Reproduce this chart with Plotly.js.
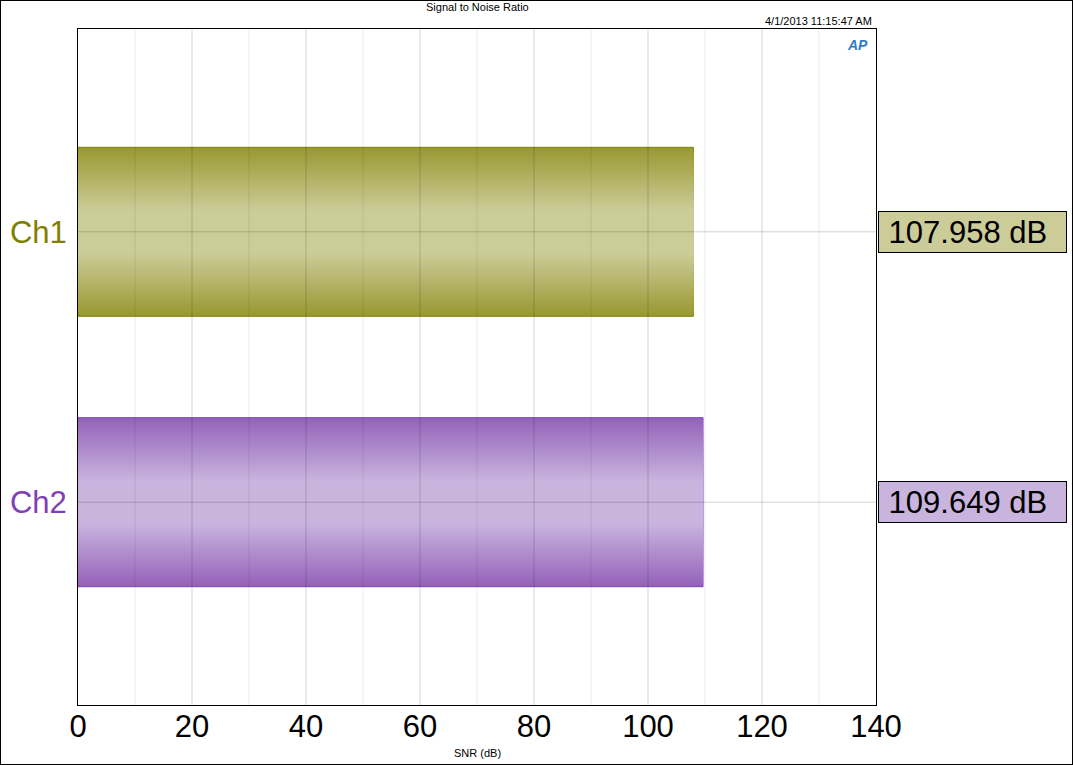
<!DOCTYPE html>
<html>
<head>
<meta charset="utf-8">
<script src="https://cdn.plot.ly/plotly-3.0.1.min.js"></script>
<style>
  html, body { margin: 0; padding: 0; background: #fff; }
  #chart { width: 1071px; height: 763px; border: 1px solid #000; }
</style>
</head>
<body>
<div id="chart"></div>
<script>
// ---- data ----
const channels = ['Ch1', 'Ch2'];
const snrValues = [107.958, 109.649];
const xTickValues = [0, 20, 40, 60, 80, 100, 120, 140];
const xMinorValues = [10, 30, 50, 70, 90, 110, 130];
const chartTitle = 'Signal to Noise Ratio';
const timestamp = '4/1/2013 11:15:47 AM';
const xAxisTitle = 'SNR (dB)';

// ---- styles ----
const darkColors = ['#999933', '#9563ba'];
const lightColors = ['#cccc99', '#c9b4de'];
const lineColors = ['#808000', '#7b3fbb'];
const labelColors = ['#808000', '#7f3fb5'];

function hexToRgb(h) {
  return [parseInt(h.slice(1,3),16), parseInt(h.slice(3,5),16), parseInt(h.slice(5,7),16)];
}
function mix(a, b, t) {
  const A = hexToRgb(a), B = hexToRgb(b);
  return 'rgb(' + A.map((v,i) => Math.round(v + (B[i]-v)*t)).join(',') + ')';
}

const barWidth = 0.625;
const N = 32;
const traces = [];
for (let k = 0; k < N; k++) {
  const t = k / (N - 1);
  const w = barWidth * (1 - 0.74 * t);
  traces.push({
    type: 'bar',
    orientation: 'h',
    y: channels,
    x: snrValues,
    width: channels.map(() => w),
    marker: {
      color: channels.map((c, i) => mix(darkColors[i], lightColors[i], t)),
      line: k === 0 ? { color: lineColors, width: 1 } : { width: 0 }
    },
    hoverinfo: 'skip',
    showlegend: false
  });
}

// grid lines drawn above bars (semi-transparent)
const shapes = [];
xTickValues.slice(1, -1).forEach(v => shapes.push({
  type: 'line', xref: 'x', yref: 'paper', x0: v, x1: v, y0: 0, y1: 1,
  line: { color: 'rgba(0,0,0,0.17)', width: 1 }, layer: 'above'
}));
xMinorValues.forEach(v => shapes.push({
  type: 'line', xref: 'x', yref: 'paper', x0: v, x1: v, y0: 0, y1: 1,
  line: { color: 'rgba(0,0,0,0.08)', width: 1 }, layer: 'above'
}));
channels.forEach(c => shapes.push({
  type: 'line', xref: 'paper', yref: 'y', x0: 0, x1: 1, y0: c, y1: c,
  line: { color: 'rgba(0,0,0,0.18)', width: 1 }, layer: 'above'
}));

const annotations = [];
channels.forEach((c, i) => annotations.push({
  xref: 'paper', yref: 'y', x: 1.0025, y: c, xanchor: 'left', yanchor: 'middle',
  text: '&nbsp;' + snrValues[i].toFixed(3) + ' dB', showarrow: false,
  font: { family: 'Liberation Sans, Arial, sans-serif', size: 31, color: '#000' },
  bgcolor: lightColors[i], bordercolor: '#000', borderwidth: 1,
  width: 185, height: 38, align: 'left', borderpad: 1
}));
annotations.push({
  xref: 'paper', yref: 'paper', x: 0.5, y: 1, yshift: 22, xanchor: 'center', yanchor: 'middle',
  text: chartTitle, showarrow: false,
  font: { family: 'Liberation Sans, Arial, sans-serif', size: 11, color: '#000' }
});
annotations.push({
  xref: 'paper', yref: 'paper', x: 0.9975, y: 1, yshift: 8, xanchor: 'right', yanchor: 'middle',
  text: timestamp, showarrow: false,
  font: { family: 'Liberation Sans, Arial, sans-serif', size: 11, color: '#000' }
});
annotations.push({
  xref: 'paper', yref: 'paper', x: 0.977, y: 1, yshift: -16, xanchor: 'center', yanchor: 'middle',
  text: '<b><i>AP</i></b>', showarrow: false,
  font: { family: 'Liberation Sans, Arial, sans-serif', size: 14, color: '#2f7cc6' }
});
annotations.push({
  xref: 'paper', yref: 'paper', x: 0.5, y: 0, yshift: -48, xanchor: 'center', yanchor: 'middle',
  text: xAxisTitle, showarrow: false,
  font: { family: 'Liberation Sans, Arial, sans-serif', size: 11, color: '#000' }
});

const layout = {
  width: 1071, height: 763,
  margin: { l: 77, r: 196, t: 28, b: 59, pad: 0 },
  paper_bgcolor: '#fff', plot_bgcolor: '#fff',
  barmode: 'overlay',
  xaxis: {
    range: [0, 140], tickvals: xTickValues, ticktext: xTickValues.map(String),
    showgrid: false, zeroline: false,
    showline: true, linecolor: '#000', linewidth: 1, mirror: true,
    ticks: '', ticklabelstandoff: -6,
    tickfont: { family: 'Liberation Sans, Arial, sans-serif', size: 31, color: '#000' },
    fixedrange: true
  },
  yaxis: {
    type: 'category', range: [1.75, -0.75],
    tickvals: channels,
    ticktext: channels.map((c, i) => '<span style="color:' + labelColors[i] + '">' + c + '</span>'),
    showgrid: false, zeroline: false,
    showline: true, linecolor: '#000', linewidth: 1, mirror: true,
    ticks: '', ticklabelstandoff: 4,
    tickfont: { family: 'Liberation Sans, Arial, sans-serif', size: 31 },
    fixedrange: true
  },
  shapes: shapes,
  annotations: annotations,
  showlegend: false
};

Plotly.newPlot('chart', traces, layout, { displayModeBar: false, staticPlot: true });
</script>
</body>
</html>
